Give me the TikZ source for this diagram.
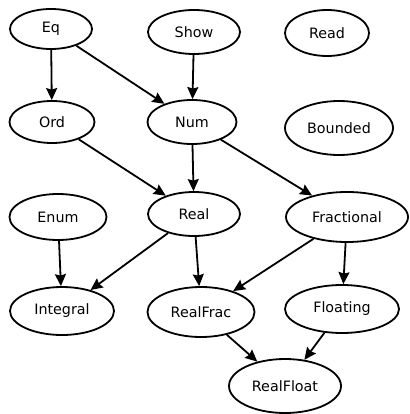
\documentclass[tikz,border=0pt]{standalone}
\usepackage{fontspec}
\setmainfont{DejaVu Sans}
\usetikzlibrary{shapes.geometric,arrows.meta}
\begin{document}
\begin{tikzpicture}[x=1pt,y=-1pt,
  cls/.style={ellipse,draw,line width=1.8pt,inner sep=0pt,font=\fontsize{14.3}{16}\selectfont},
  arr/.style={line width=1.8pt,-{Stealth[length=12pt,width=11pt,inset=1.5pt]}}]
\useasboundingbox (0,0) rectangle (409,414);
\node[cls,minimum width=82,minimum height=40] (Eq) at (51,29) {Eq};
\node[cls,minimum width=92,minimum height=44] (Show) at (194,32) {Show};
\node[cls,minimum width=84,minimum height=46] (Read) at (327,33) {Read};
\node[cls,minimum width=85,minimum height=42] (Ord) at (52,122) {Ord};
\node[cls,minimum width=89,minimum height=44] (Num) at (192,122) {Num};
\node[cls,minimum width=108,minimum height=54] (Bounded) at (339,128) {Bounded};
\node[cls,minimum width=97,minimum height=46] (Enum) at (58,217) {Enum};
\node[cls,minimum width=92,minimum height=44] (Real) at (194,214) {Real};
\node[cls,minimum width=122,minimum height=50] (Fractional) at (347,217) {Fractional};
\node[cls,minimum width=104,minimum height=48] (Integral) at (62,311) {Integral};
\node[cls,minimum width=107,minimum height=50] (RealFrac) at (201,312) {RealFrac};
\node[cls,minimum width=114,minimum height=48] (Floating) at (342,309) {Floating};
\node[cls,minimum width=112,minimum height=54] (RealFloat) at (285,386) {RealFloat};
\draw[arr] (Eq) -- (Ord);
\draw[arr] (Eq) -- (Num);
\draw[arr] (Show) -- (Num);
\draw[arr] (Ord) -- (Real);
\draw[arr] (Num) -- (Real);
\draw[arr] (Num) -- (Fractional);
\draw[arr] (Enum) -- (Integral);
\draw[arr] (Real) -- (Integral);
\draw[arr] (Real) -- (RealFrac);
\draw[arr] (Fractional) -- (RealFrac);
\draw[arr] (Fractional) -- (Floating);
\draw[arr] (RealFrac) -- (RealFloat);
\draw[arr] (Floating) -- (RealFloat);
\end{tikzpicture}
\end{document}
